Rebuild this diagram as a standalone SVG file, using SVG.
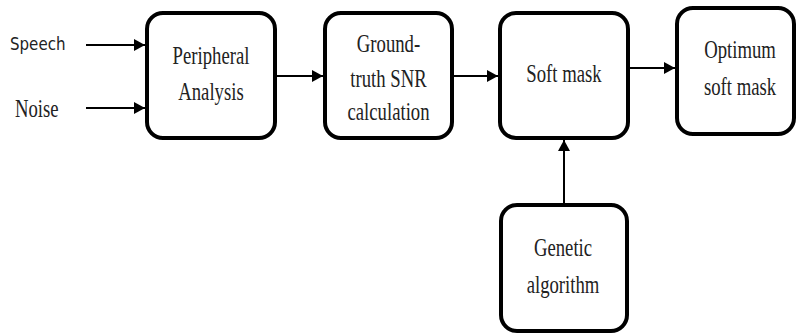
<svg xmlns="http://www.w3.org/2000/svg" width="797" height="335" viewBox="0 0 797 335">
<style>
.box{fill:#fff;stroke:#000;stroke-width:4}
.t{font-family:"Liberation Serif","Times New Roman",serif;font-size:26px;fill:#222;text-anchor:middle}
.ln{stroke:#000;stroke-width:2;fill:none}
</style>
<defs>
<marker id="ah" viewBox="0 0 10 10" refX="10" refY="5" markerWidth="11" markerHeight="12" markerUnits="userSpaceOnUse" orient="auto" preserveAspectRatio="none">
<path d="M0,0 L10,5 L0,10 z" fill="#000"/>
</marker>
</defs>
<rect width="797" height="335" fill="#fff"/>
<text transform="translate(10 50) scale(0.93 1)" font-family="DejaVu Sans Condensed, DejaVu Sans, sans-serif" font-size="18" fill="#222">Speech</text>
<text transform="translate(15 117) scale(0.72 1)" font-family="Liberation Serif, Times New Roman, serif" font-size="26" fill="#222">Noise</text>
<g id="connectors">
<line class="ln" x1="86" y1="45" x2="145" y2="45" marker-end="url(#ah)"/>
<line class="ln" x1="86" y1="108" x2="145" y2="108" marker-end="url(#ah)"/>
<line class="ln" x1="277" y1="76" x2="323" y2="76" marker-end="url(#ah)"/>
<line class="ln" x1="454" y1="76" x2="498" y2="76" marker-end="url(#ah)"/>
<line class="ln" x1="630" y1="68" x2="675" y2="68" marker-end="url(#ah)"/>
<line class="ln" x1="564" y1="203" x2="564" y2="140" marker-end="url(#ah)"/>
</g>
<g id="peripheral">
<rect class="box" x="147" y="13" width="128" height="125" rx="16"/>
<text class="t" transform="translate(211 64) scale(0.72 1)">Peripheral</text>
<text class="t" transform="translate(211 100) scale(0.72 1)">Analysis</text>
</g>
<g id="snr">
<rect class="box" x="325" y="13" width="127" height="125" rx="16"/>
<text class="t" transform="translate(388.5 52) scale(0.72 1)">Ground-</text>
<text class="t" transform="translate(388.5 87) scale(0.72 1)">truth SNR</text>
<text class="t" transform="translate(388.5 120) scale(0.72 1)">calculation</text>
</g>
<g id="softmask">
<rect class="box" x="500" y="13" width="128" height="125" rx="16"/>
<text class="t" transform="translate(564 82) scale(0.72 1)">Soft mask</text>
</g>
<g id="optimum">
<rect class="box" x="677" y="8" width="117" height="126" rx="16"/>
<text class="t" transform="translate(740 58) scale(0.72 1)">Optimum</text>
<text class="t" transform="translate(740 95) scale(0.72 1)">soft mask</text>
</g>
<g id="genetic">
<rect class="box" x="501" y="205" width="126" height="126" rx="16"/>
<text class="t" transform="translate(563 256) scale(0.72 1)">Genetic</text>
<text class="t" transform="translate(563 293) scale(0.72 1)">algorithm</text>
</g>
</svg>
